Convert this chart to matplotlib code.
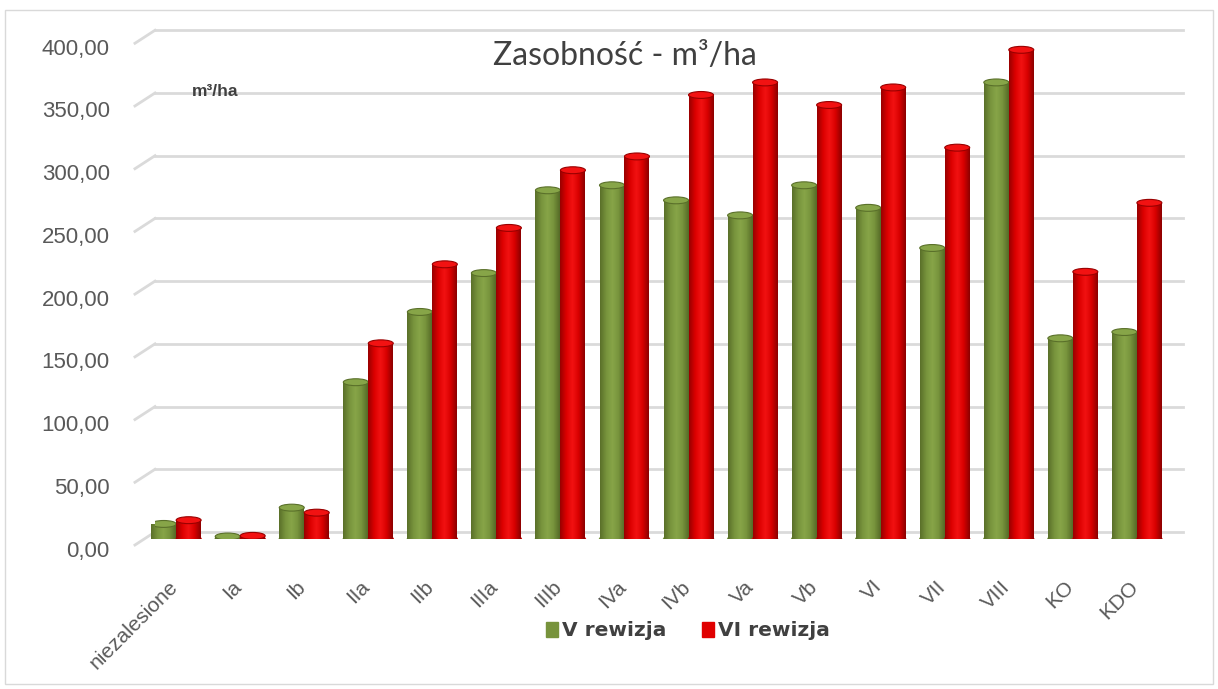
import numpy as np
import matplotlib.pyplot as plt
import matplotlib.transforms as mtransforms
from matplotlib.colors import LinearSegmentedColormap
from matplotlib.patches import Ellipse, Patch, Rectangle

# Zasobność (m3/ha) w kolejnych klasach wieku
categories = ["niezalesione", "Ia", "Ib", "IIa", "IIb", "IIIa", "IIIb", "IVa",
              "IVb", "Va", "Vb", "VI", "VII", "VIII", "KO", "KDO"]
v_rewizja = [12, 2, 25, 125, 181, 212, 278, 282, 270, 258, 282, 264, 232, 364, 160, 165]
vi_rewizja = [15, 2.5, 21, 156, 219, 248, 294, 305, 354, 364, 346, 360, 312, 390, 213, 268]
y_ticks = [0, 50, 100, 150, 200, 250, 300, 350, 400]

green = ["#5a702a", "#77933c", "#87a548", "#77933c", "#556a27"]
red = ["#990000", "#dc0000", "#f21212", "#d80000", "#8c0000"]

fig = plt.figure(figsize=(12.18, 6.89), dpi=100)
ax = fig.add_axes([155 / 1218, 1 - 539 / 689, 1028 / 1218, 508 / 689])
ax.axis("off")

# ramka wykresu
fig.patches.append(Rectangle((5 / 1218, 5 / 689), 1208 / 1218, 674 / 689,
                             transform=fig.transFigure, fill=False,
                             edgecolor="#d9d9d9", lw=1))

# linie siatki (tylna ściana + skos w lewo)
ytr = ax.get_yaxis_transform()
up = mtransforms.ScaledTranslation(0, 0.07, fig.dpi_scale_trans)
down = mtransforms.ScaledTranslation(0, -0.12, fig.dpi_scale_trans)
for t in y_ticks:
    ax.plot([0, 1], [t, t], color="#dadada", lw=2, transform=ytr + up,
            clip_on=False, zorder=0)
    ax.plot([-0.0195, 0], [t - 6 / 1.254, t + 7 / 1.254], color="#dadada",
            lw=2, transform=ytr, clip_on=False, zorder=0)
    ax.text(-0.044, t, f"{t:.2f}".replace(".", ","), transform=ytr + down,
            ha="right", va="center", fontsize=16, color="#595959",
            family="Liberation Sans")

x = np.arange(len(categories))
w = 0.39
cap_h = 5.5


def cylinders(xpos, vals, cols, z):
    cmap = LinearSegmentedColormap.from_list("c", cols)
    grad = np.linspace(0, 1, 64).reshape(1, -1)
    bars = ax.bar(xpos, vals, w, color=cols[1], zorder=z, linewidth=0)
    for b, v in zip(bars, vals):
        x0 = b.get_x()
        ax.add_patch(Ellipse((x0 + w / 2, 0), w, cap_h, color=cols[3], zorder=z))
        im = ax.imshow(grad, extent=[x0, x0 + w, 0, v], aspect="auto",
                       cmap=cmap, zorder=z + 0.1)
        im.set_clip_path(b)
        ax.add_patch(Ellipse((x0 + w / 2, v), w, cap_h, facecolor=cols[2],
                             edgecolor=cols[0], lw=0.8, zorder=z + 0.2))
    return bars


cylinders(x - w / 2, v_rewizja, green, 2)
cylinders(x + w / 2, vi_rewizja, red, 3)
ax.set_xlim(-0.33, 15.72)
ax.set_ylim(0, 405)

# etykiety kategorii
lab_off = mtransforms.ScaledTranslation(0, -0.38, fig.dpi_scale_trans)
for i, c in enumerate(categories):
    ax.text(i - 0.13, 0, c, transform=ax.transData + lab_off, rotation=45,
            ha="right", va="top", rotation_mode="anchor", fontsize=15,
            color="#595959", family="Liberation Sans", clip_on=False)

fig.text(625 / 1218, 1 - 56 / 689, "Zasobność - m³/ha", ha="center",
         va="center", fontsize=23, color="#404040", family="Lato")
fig.text(192 / 1218, 1 - 92 / 689, "m³/ha", ha="left", va="center",
         fontsize=12.5, fontweight="bold", color="#404040", family="Liberation Sans")

handles = [Patch(color="#77933c", label="V rewizja"),
           Patch(color="#e00000", label="VI rewizja")]
fig.legend(handles=handles, loc="center", bbox_to_anchor=(688 / 1218, 1 - 631 / 689),
           ncol=2, frameon=False, handlelength=0.6, handleheight=0.75,
           handletextpad=0.2, columnspacing=1.8,
           prop={"family": "DejaVu Sans", "weight": "bold", "size": 14.5})
for t in fig.legends[0].get_texts():
    t.set_color("#404040")

fig.savefig("out.png", dpi=100)
